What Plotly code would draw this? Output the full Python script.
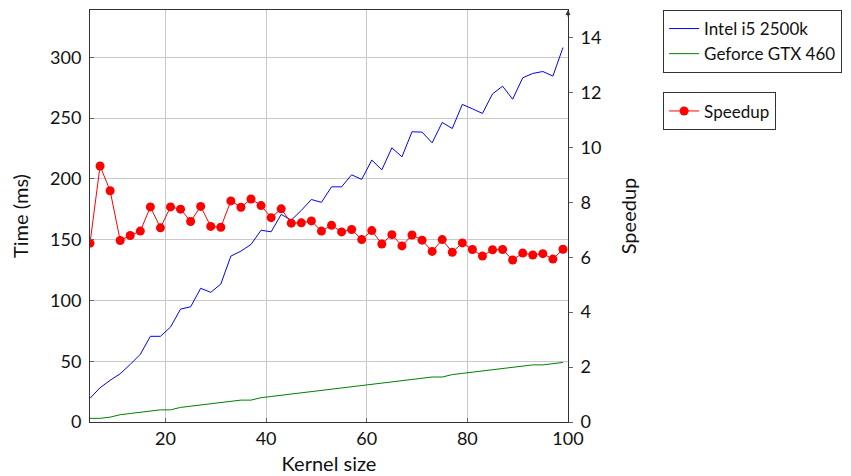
import plotly.graph_objects as go

kernel_size = list(range(5, 100, 2))

cpu_ms = [19.5, 28.2, 34.3, 39.7, 47.4, 55.7, 70.5, 70.5, 78.1, 92.9,
          94.8, 110.0, 106.7, 113.5, 136.5, 140.6, 146.1, 157.8, 156.5, 170.8,
          166.1, 174.1, 183.1, 180.7, 193.5, 193.5, 203.4, 199.6, 215.5, 207.5,
          225.6, 218.2, 238.8, 238.5, 229.7, 246.5, 241.5, 261.3, 257.7, 253.9,
          270.0, 276.3, 265.6, 283.2, 286.8, 288.4, 284.6, 308.1]

gpu_ms = [3, 3, 4, 6, 7, 8, 9, 10, 10, 12,
          13, 14, 15, 16, 17, 18, 18, 20, 21, 22,
          23, 24, 25, 26, 27, 28, 29, 30, 31, 32,
          33, 34, 35, 36, 37, 37, 39, 40, 41, 42,
          43, 44, 45, 46, 47, 47, 48, 49]

speedup = [6.51, 9.32, 8.42, 6.61, 6.79, 6.95, 7.83, 7.07, 7.83, 7.75,
           7.30, 7.85, 7.12, 7.09, 8.05, 7.82, 8.12, 7.88, 7.44, 7.76,
           7.24, 7.25, 7.32, 6.95, 7.16, 6.92, 7.01, 6.64, 6.97, 6.48,
           6.82, 6.41, 6.81, 6.62, 6.21, 6.64, 6.18, 6.52, 6.28, 6.04,
           6.27, 6.28, 5.90, 6.15, 6.08, 6.13, 5.93, 6.29]

FONT = "Lato"

fig = go.Figure()
fig.add_trace(go.Scatter(x=kernel_size, y=cpu_ms, mode="lines", name="Intel i5 2500k",
                         line=dict(color="#0000ff", width=1), legend="legend"))
fig.add_trace(go.Scatter(x=kernel_size, y=gpu_ms, mode="lines", name="Geforce GTX 460",
                         line=dict(color="#008000", width=1), legend="legend"))
fig.add_trace(go.Scatter(x=kernel_size, y=speedup, mode="lines+markers", name="Speedup",
                         line=dict(color="#ff0000", width=1),
                         marker=dict(color="#ff0000", size=9),
                         yaxis="y2", legend="legend2"))

fig.update_layout(
    width=843, height=468,
    margin=dict(l=82, r=283, t=2, b=54),
    paper_bgcolor="white", plot_bgcolor="white",
    font=dict(family=FONT, size=18, color="#111"),
    xaxis=dict(range=[5, 100], tickvals=[20, 40, 60, 80, 100],
               showgrid=True, gridcolor="#c8c8c8", gridwidth=1,
               showline=True, linecolor="#333", linewidth=1, mirror=True,
               ticks="inside", ticklen=4, tickcolor="#666",
               zeroline=False, automargin=False,
               title=dict(text="Kernel size", standoff=9, font=dict(size=20))),
    yaxis=dict(range=[0, 339], tickvals=[0, 50, 100, 150, 200, 250, 300],
               showgrid=True, gridcolor="#c8c8c8", gridwidth=1,
               showline=True, linecolor="#333", linewidth=1,
               ticks="inside", ticklen=4, tickcolor="#666",
               ticklabelstandoff=4,
               zeroline=False, automargin=False,
               title=dict(text="Time (ms)", standoff=16, font=dict(size=20))),
    yaxis2=dict(range=[0, 15], tickvals=[0, 2, 4, 6, 8, 10, 12, 14],
                overlaying="y", side="right", showgrid=False,
                showline=True, linecolor="#333", linewidth=1,
                ticks="outside", ticklen=4, tickcolor="#666",
                ticklabelstandoff=4,
                zeroline=False, automargin=False,
                title=dict(text="Speedup", standoff=21, font=dict(size=20))),
    legend=dict(x=1.199, y=1.0, xanchor="left", yanchor="top",
                bordercolor="#333", borderwidth=1, bgcolor="white",
                font=dict(family=FONT, size=17), tracegroupgap=0, itemwidth=30),
    legend2=dict(x=1.199, y=0.80, xanchor="left", yanchor="top",
                 bordercolor="#333", borderwidth=1, bgcolor="white",
                 font=dict(family=FONT, size=17), itemwidth=30),
    showlegend=True,
)

fig.add_annotation(xref="paper", yref="paper", x=1, y=1.0, ax=0, ay=8,
                   axref="pixel", ayref="pixel", text="", showarrow=True,
                   arrowhead=2, arrowsize=1, arrowwidth=1, arrowcolor="#333")

fig.write_html("out.html")
